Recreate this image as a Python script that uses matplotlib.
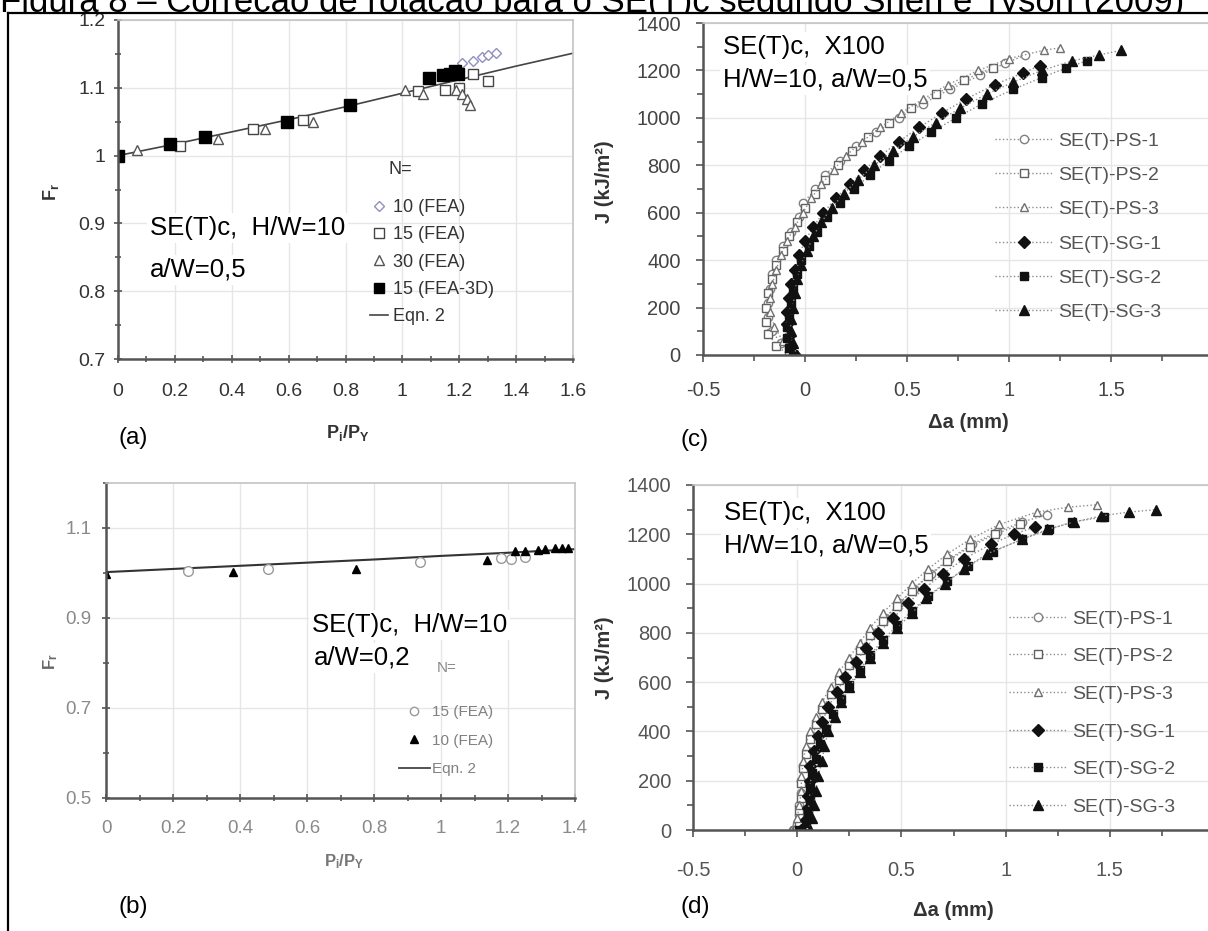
import matplotlib
matplotlib.use("Agg")
import matplotlib.pyplot as plt
from matplotlib.lines import Line2D
from matplotlib.ticker import MultipleLocator, FixedLocator, FuncFormatter
from matplotlib.transforms import Bbox, TransformedBbox

plt.rcParams['font.family'] = ['Liberation Sans', 'DejaVu Sans']
plt.rcParams['mathtext.fontset'] = 'custom'
plt.rcParams['mathtext.rm'] = 'Liberation Sans'
plt.rcParams['mathtext.it'] = 'Liberation Sans:italic'
plt.rcParams['mathtext.bf'] = 'Liberation Sans:bold'

W, H = 1208, 931

titulo = "Figura 8 – Correção de rotação para o SE(T)c segundo Shen e Tyson (2009)"

# (a) a/W = 0,5 : Fr x Pi/PY
eqn_a_x = [0, 0.2, 0.4, 0.6, 0.8, 1.0, 1.2, 1.4, 1.6]
eqn_a_y = [1.0, 1.017, 1.035, 1.053, 1.072, 1.092, 1.112, 1.132, 1.151]
fea10_a_x = [1.21, 1.25, 1.28, 1.30, 1.33]
fea10_a_y = [1.136, 1.140, 1.145, 1.148, 1.152]
fea15_a_x = [0.218, 0.475, 0.651, 1.055, 1.15, 1.20, 1.25, 1.30]
fea15_a_y = [1.014, 1.039, 1.053, 1.096, 1.097, 1.100, 1.120, 1.110]
fea30_a_x = [0.066, 0.353, 0.517, 0.686, 1.009, 1.073, 1.19, 1.21, 1.227, 1.238]
fea30_a_y = [1.008, 1.025, 1.039, 1.049, 1.097, 1.091, 1.097, 1.091, 1.084, 1.075]
fea3d_a_x = [0.0, 0.183, 0.306, 0.593, 0.816, 1.094, 1.143, 1.167, 1.185, 1.196]
fea3d_a_y = [1.0, 1.017, 1.027, 1.049, 1.074, 1.114, 1.119, 1.120, 1.125, 1.120]

# (b) a/W = 0,2
eqn_b_x = [0, 0.2, 0.4, 0.6, 0.8, 1.0, 1.2, 1.4]
eqn_b_y = [1.002, 1.009, 1.016, 1.023, 1.030, 1.038, 1.045, 1.053]
fea15_b_x = [0.245, 0.483, 0.937, 1.18, 1.21, 1.25]
fea15_b_y = [1.004, 1.009, 1.025, 1.034, 1.032, 1.035]
fea10_b_x = [0.0, 0.379, 0.746, 1.137, 1.22, 1.25, 1.29, 1.31, 1.34, 1.36, 1.38]
fea10_b_y = [0.998, 1.002, 1.008, 1.029, 1.048, 1.050, 1.052, 1.054, 1.055, 1.056, 1.055]

# (c) J-R, curvas com rotação
ps1_c_da = [-0.07, -0.12, -0.16, -0.18, -0.18, -0.17, -0.16, -0.14, -0.11, -0.07, -0.03, -0.01,
            0.05, 0.10, 0.17, 0.25, 0.35, 0.46, 0.58, 0.71, 0.86, 0.98, 1.08]
ps1_c_j = [0, 50, 100, 160, 220, 280, 340, 400, 460, 520, 580, 640,
           700, 760, 820, 880, 940, 1000, 1060, 1120, 1180, 1230, 1265]
ps2_c_da = [-0.08, -0.14, -0.18, -0.19, -0.19, -0.18, -0.16, -0.14, -0.11, -0.08, -0.04, 0.00,
            0.05, 0.10, 0.16, 0.23, 0.31, 0.41, 0.52, 0.64, 0.78, 0.92]
ps2_c_j = [0, 40, 90, 140, 200, 260, 320, 380, 440, 500, 560, 620,
           680, 740, 800, 860, 920, 980, 1040, 1100, 1160, 1210]
ps3_c_da = [-0.06, -0.11, -0.15, -0.17, -0.17, -0.16, -0.14, -0.12, -0.09, -0.05, -0.01, 0.03,
            0.08, 0.14, 0.20, 0.28, 0.37, 0.47, 0.58, 0.70, 0.85, 1.00, 1.17, 1.25]
ps3_c_j = [0, 60, 120, 180, 240, 300, 360, 420, 480, 540, 600, 660,
           720, 780, 840, 900, 960, 1020, 1080, 1140, 1200, 1250, 1285, 1295]
sg1_c_da = [-0.05, -0.07, -0.08, -0.09, -0.09, -0.08, -0.07, -0.05, -0.03, 0.00, 0.04, 0.09,
            0.15, 0.22, 0.29, 0.37, 0.46, 0.56, 0.67, 0.79, 0.93, 1.07, 1.15]
sg1_c_j = [0, 40, 80, 130, 180, 240, 300, 360, 420, 480, 540, 600,
           660, 720, 780, 840, 900, 960, 1020, 1080, 1140, 1190, 1220]
sg2_c_da = [-0.06, -0.08, -0.09, -0.09, -0.08, -0.07, -0.06, -0.04, -0.02, 0.02, 0.06, 0.11,
            0.17, 0.24, 0.32, 0.41, 0.51, 0.62, 0.74, 0.87, 1.02, 1.16, 1.28, 1.38]
sg2_c_j = [0, 30, 70, 120, 170, 220, 280, 340, 400, 460, 520, 580,
           640, 700, 760, 820, 880, 940, 1000, 1060, 1120, 1170, 1210, 1240]
sg3_c_da = [-0.04, -0.06, -0.07, -0.07, -0.06, -0.05, -0.04, -0.02, 0.01, 0.04, 0.08, 0.13,
            0.19, 0.26, 0.34, 0.43, 0.53, 0.64, 0.76, 0.89, 1.02, 1.16, 1.31, 1.44, 1.55]
sg3_c_j = [0, 50, 100, 150, 200, 260, 320, 380, 440, 500, 560, 620,
           680, 740, 800, 860, 920, 980, 1040, 1100, 1150, 1200, 1240, 1265, 1285]

# (d) J-R, curvas corrigidas
ps1_d_da = [-0.02, 0.0, 0.01, 0.01, 0.02, 0.02, 0.03, 0.05, 0.07, 0.10, 0.13, 0.17,
            0.21, 0.26, 0.31, 0.36, 0.42, 0.49, 0.56, 0.64, 0.73, 0.84, 0.96, 1.08, 1.20]
ps1_d_j = [0, 25, 60, 100, 150, 200, 260, 320, 380, 440, 500, 560,
           620, 680, 740, 800, 860, 920, 980, 1040, 1100, 1160, 1210, 1250, 1280]
ps2_d_da = [0.0, 0.01, 0.01, 0.02, 0.02, 0.03, 0.04, 0.06, 0.09, 0.12, 0.16, 0.20,
            0.25, 0.30, 0.35, 0.41, 0.48, 0.55, 0.63, 0.72, 0.83, 0.95, 1.07]
ps2_d_j = [0, 30, 80, 130, 190, 250, 310, 370, 430, 490, 550, 610,
           670, 730, 790, 850, 910, 970, 1030, 1090, 1150, 1200, 1240]
ps3_d_da = [-0.03, 0.0, 0.01, 0.02, 0.02, 0.03, 0.04, 0.06, 0.09, 0.12, 0.16, 0.20,
            0.25, 0.30, 0.35, 0.41, 0.48, 0.55, 0.63, 0.72, 0.83, 0.97, 1.15, 1.30, 1.44]
ps3_d_j = [0, 50, 100, 160, 220, 280, 340, 400, 460, 520, 580, 640,
           700, 760, 820, 880, 940, 1000, 1060, 1120, 1180, 1240, 1290, 1310, 1320]
sg1_d_da = [0.02, 0.04, 0.05, 0.05, 0.06, 0.06, 0.08, 0.10, 0.12, 0.15, 0.19, 0.23,
            0.28, 0.33, 0.39, 0.46, 0.53, 0.61, 0.70, 0.80, 0.93, 1.04, 1.14]
sg1_d_j = [0, 40, 90, 140, 200, 260, 320, 380, 440, 500, 560, 620,
           680, 740, 800, 860, 920, 980, 1040, 1100, 1160, 1200, 1230]
sg2_d_da = [0.01, 0.04, 0.05, 0.06, 0.06, 0.07, 0.09, 0.11, 0.14, 0.17, 0.21, 0.25,
            0.30, 0.35, 0.41, 0.48, 0.55, 0.63, 0.72, 0.82, 0.94, 1.08, 1.21, 1.32, 1.47]
sg2_d_j = [0, 30, 70, 120, 170, 230, 290, 350, 410, 470, 530, 590,
           650, 710, 770, 830, 890, 950, 1010, 1070, 1130, 1180, 1220, 1250, 1270]
sg3_d_da = [0.06, 0.07, 0.08, 0.09, 0.10, 0.12, 0.13, 0.15, 0.18, 0.21, 0.25, 0.30,
            0.35, 0.41, 0.48, 0.55, 0.62, 0.71, 0.80, 0.91, 1.08, 1.20, 1.33, 1.46, 1.59, 1.72]
sg3_d_j = [0, 50, 100, 160, 220, 280, 340, 400, 460, 520, 580, 640,
           700, 760, 820, 880, 940, 1000, 1060, 1120, 1180, 1220, 1250, 1275, 1290, 1300]

rotulos_jr = ["SE(T)-PS-1", "SE(T)-PS-2", "SE(T)-PS-3", "SE(T)-SG-1", "SE(T)-SG-2", "SE(T)-SG-3"]


fig = plt.figure(figsize=(W / 100, H / 100), dpi=100)


def caixa(l, t, r, b):
    # caixa em pixels -> coordenadas da figura
    return [l / W, 1 - b / H, (r - l) / W, (b - t) / H]


def px(x, y):
    return x / W, 1 - y / H


fmt = FuncFormatter(lambda v, p: '%g' % round(v, 3))


def estilo(ax, cor_rot, tam, pad_x, pad_y, direcao, comp):
    for lado in ('top', 'right'):
        ax.spines[lado].set_color('#c4c4c4')
        ax.spines[lado].set_linewidth(1.2)
    for lado in ('left', 'bottom'):
        ax.spines[lado].set_color('#555555')
        ax.spines[lado].set_linewidth(1.8)
    ax.grid(True, which='major', color='#e6e6e6', lw=1)
    ax.set_axisbelow(True)
    ax.tick_params(which='both', direction=direcao, color='#555555', width=1.2)
    ax.tick_params(which='major', length=comp, labelsize=tam, labelcolor=cor_rot)
    ax.tick_params(which='minor', length=comp * 0.8)
    ax.tick_params(axis='x', pad=pad_x)
    ax.tick_params(axis='y', pad=pad_y)
    ax.xaxis.set_major_formatter(fmt)
    ax.yaxis.set_major_formatter(fmt)


# ---------- (a) ----------
ax_a = fig.add_axes(caixa(118, 20, 573, 359))
ax_a.set_xlim(0, 1.6)
ax_a.set_ylim(0.7, 1.2)
ax_a.xaxis.set_major_locator(MultipleLocator(0.2))
ax_a.xaxis.set_minor_locator(MultipleLocator(0.1))
ax_a.yaxis.set_major_locator(MultipleLocator(0.1))
ax_a.yaxis.set_minor_locator(MultipleLocator(0.05))
estilo(ax_a, '#333333', 14, 14, 6, 'inout', 6)

ax_a.plot(eqn_a_x, eqn_a_y, color='#444444', lw=1.2)
ax_a.plot(fea10_a_x, fea10_a_y, ls='none', marker='D', mfc='white', mec='#9090c0', ms=5)
ax_a.plot(fea15_a_x, fea15_a_y, ls='none', marker='s', mfc='white', mec='#444444', ms=7)
ax_a.plot(fea30_a_x, fea30_a_y, ls='none', marker='^', mfc='white', mec='#555555', ms=7)
ax_a.plot(fea3d_a_x, fea3d_a_y, ls='none', marker='s', color='black', ms=8)

h_a = [Line2D([], [], ls='none', marker='D', mfc='white', mec='#9090c0', ms=5),
       Line2D([], [], ls='none', marker='s', mfc='white', mec='#444444', ms=7),
       Line2D([], [], ls='none', marker='^', mfc='white', mec='#555555', ms=7),
       Line2D([], [], ls='none', marker='s', color='black', ms=7),
       Line2D([], [], color='#444444', lw=1.2)]
ax_a.legend(h_a, ["10 (FEA)", "15 (FEA)", "30 (FEA)", "15 (FEA-3D)", "Eqn. 2"],
            loc='upper left', bbox_to_anchor=px(370, 199), bbox_transform=fig.transFigure,
            frameon=False, fontsize=13, labelcolor='#333333', handlelength=1.0,
            handletextpad=0.3, labelspacing=0.57, borderpad=0, borderaxespad=0)
fig.text(*px(389, 170), "N=", fontsize=13, color='#333333', va='center')

# ---------- (b) ----------
ax_b = fig.add_axes(caixa(106, 483, 575, 798))
ax_b.set_xlim(0, 1.4)
ax_b.set_ylim(0.5, 1.2)
ax_b.xaxis.set_major_locator(MultipleLocator(0.2))
ax_b.xaxis.set_minor_locator(MultipleLocator(0.1))
ax_b.yaxis.set_major_locator(FixedLocator([0.5, 0.7, 0.9, 1.1]))
ax_b.yaxis.set_minor_locator(FixedLocator([0.6, 0.8, 1.0, 1.2]))
estilo(ax_b, '#8a8a8a', 13.5, 12.5, 7.5, 'inout', 6)

ax_b.plot(eqn_b_x, eqn_b_y, color='#333333', lw=1.5)
ax_b.plot(fea15_b_x, fea15_b_y, ls='none', marker='o', mfc='white', mec='#9a9a9a', ms=7)
ax_b.plot(fea10_b_x, fea10_b_y, ls='none', marker='^', color='black', ms=6)

h_b = [Line2D([], [], ls='none', marker='o', mfc='white', mec='#9a9a9a', ms=6),
       Line2D([], [], ls='none', marker='^', color='black', ms=6),
       Line2D([], [], color='#444444', lw=1.3)]
ax_b.legend(h_b, ["15 (FEA)", "10 (FEA)", "Eqn. 2"],
            loc='upper left', bbox_to_anchor=px(399, 705), bbox_transform=fig.transFigure,
            frameon=False, fontsize=11, labelcolor='#808080', handlelength=2.0,
            handletextpad=0.15, labelspacing=0.95, borderpad=0, borderaxespad=0)
fig.text(*px(437, 668), "N=", fontsize=11, color='#8a8a8a', va='center')

# ---------- (c) e (d) ----------
estilos_jr = [dict(marker='o', mfc='white', mec='#808080', ms=6),
              dict(marker='s', mfc='white', mec='#606060', ms=6),
              dict(marker='^', mfc='white', mec='#707070', ms=6),
              dict(marker='D', mfc='#111111', mec='#111111', ms=6),
              dict(marker='s', mfc='#111111', mec='#111111', ms=6),
              dict(marker='^', mfc='#111111', mec='#111111', ms=6.5)]

series_c = [(ps1_c_da, ps1_c_j), (ps2_c_da, ps2_c_j), (ps3_c_da, ps3_c_j),
            (sg1_c_da, sg1_c_j), (sg2_c_da, sg2_c_j), (sg3_c_da, sg3_c_j)]
series_d = [(ps1_d_da, ps1_d_j), (ps2_d_da, ps2_d_j), (ps3_d_da, ps3_d_j),
            (sg1_d_da, sg1_d_j), (sg2_d_da, sg2_d_j), (sg3_d_da, sg3_d_j)]


def painel_jr(box_px, series, cor_rot, pad_x, pad_y, leg_xy, esp):
    ax = fig.add_axes(caixa(*box_px))
    ax.set_xlim(-0.5, 2.0)
    ax.set_ylim(0, 1400)
    ax.xaxis.set_major_locator(MultipleLocator(0.5))
    ax.xaxis.set_minor_locator(MultipleLocator(0.25))
    ax.yaxis.set_major_locator(MultipleLocator(200))
    ax.yaxis.set_minor_locator(MultipleLocator(100))
    estilo(ax, cor_rot, 14.5, pad_x, pad_y, 'out', 5)
    for (da, j), est, rot in zip(series, estilos_jr, rotulos_jr):
        ax.plot(da, j, ls=':', color='#8c8c8c', lw=1, label=rot, **est)
    ax.legend(loc='upper left', bbox_to_anchor=px(*leg_xy), bbox_transform=fig.transFigure,
              frameon=False, fontsize=14, labelcolor='#555555', handlelength=3.0,
              handletextpad=0.25, labelspacing=esp, borderpad=0, borderaxespad=0)
    return ax


ax_c = painel_jr((703, 23, 1213, 355), series_c, '#444444', 14, 11, (995, 132), 0.86)
ax_d = painel_jr((693, 485, 1214, 830), series_d, '#555555', 17, 10.5, (1009, 610), 1.03)

# ---------- textos ----------
caixa_branca = dict(facecolor='white', edgecolor='none', pad=2)
anot = [((150, 228), "SE(T)c,  H/W=10"), ((150, 270), "a/W=0,5"),
        ((312, 625), "SE(T)c,  H/W=10"), ((314, 658), "a/W=0,2"),
        ((723, 47), "SE(T)c,  X100"), ((723, 80), "H/W=10, a/W=0,5"),
        ((724, 513), "SE(T)c,  X100"), ((724, 545), "H/W=10, a/W=0,5")]
for (x, y), s in anot:
    fig.text(*px(x, y), s, fontsize=18.5, va='center', ha='left', bbox=caixa_branca)

for (x, y), s in [((119, 438), "(a)"), ((119, 907), "(b)"), ((681, 440), "(c)"), ((681, 907), "(d)")]:
    fig.text(*px(x, y), s, fontsize=17.5, va='center', ha='left')

fig.text(*px(51, 192), r'$\mathbf{F_r}$', rotation=90, fontsize=13, color='#333333',
         ha='center', va='center')
fig.text(*px(51, 662), r'$\mathbf{F_r}$', rotation=90, fontsize=12, color='#666666',
         ha='center', va='center')
fig.text(*px(348, 433), r'$\mathbf{P_i/P_Y}$', fontsize=13, color='#333333', ha='center', va='center')
fig.text(*px(344, 862), r'$\mathbf{P_i/P_Y}$', fontsize=12, color='#777777', ha='center', va='center')
for (x, y) in [(605, 182), (605, 658)]:
    fig.text(*px(x, y), "J (kJ/m²)", rotation=90, fontsize=14.5, fontweight='bold',
             color='#333333', ha='center', va='center')
for (x, y) in [(968, 423), (953, 910)]:
    fig.text(*px(x, y), "Δa (mm)", fontsize=14.5, fontweight='bold', color='#333333',
             ha='center', va='center')

# título cortado no topo (só a parte de baixo aparece), como no original
t = fig.text(*px(0, 12), titulo, fontsize=25, va='baseline', ha='left')
t.set_clip_box(TransformedBbox(Bbox([[0, 1 - 13 / H], [1, 1]]), fig.transFigure))
t.set_clip_on(True)

# moldura
fig.add_artist(Line2D([8 / W, 1], [1 - 13 / H, 1 - 13 / H], transform=fig.transFigure,
                      color='black', lw=1.6, zorder=10))
fig.add_artist(Line2D([8 / W, 8 / W], [0, 1 - 13 / H], transform=fig.transFigure,
                      color='black', lw=1.6, zorder=10))

fig.savefig("out.png", dpi=100)
